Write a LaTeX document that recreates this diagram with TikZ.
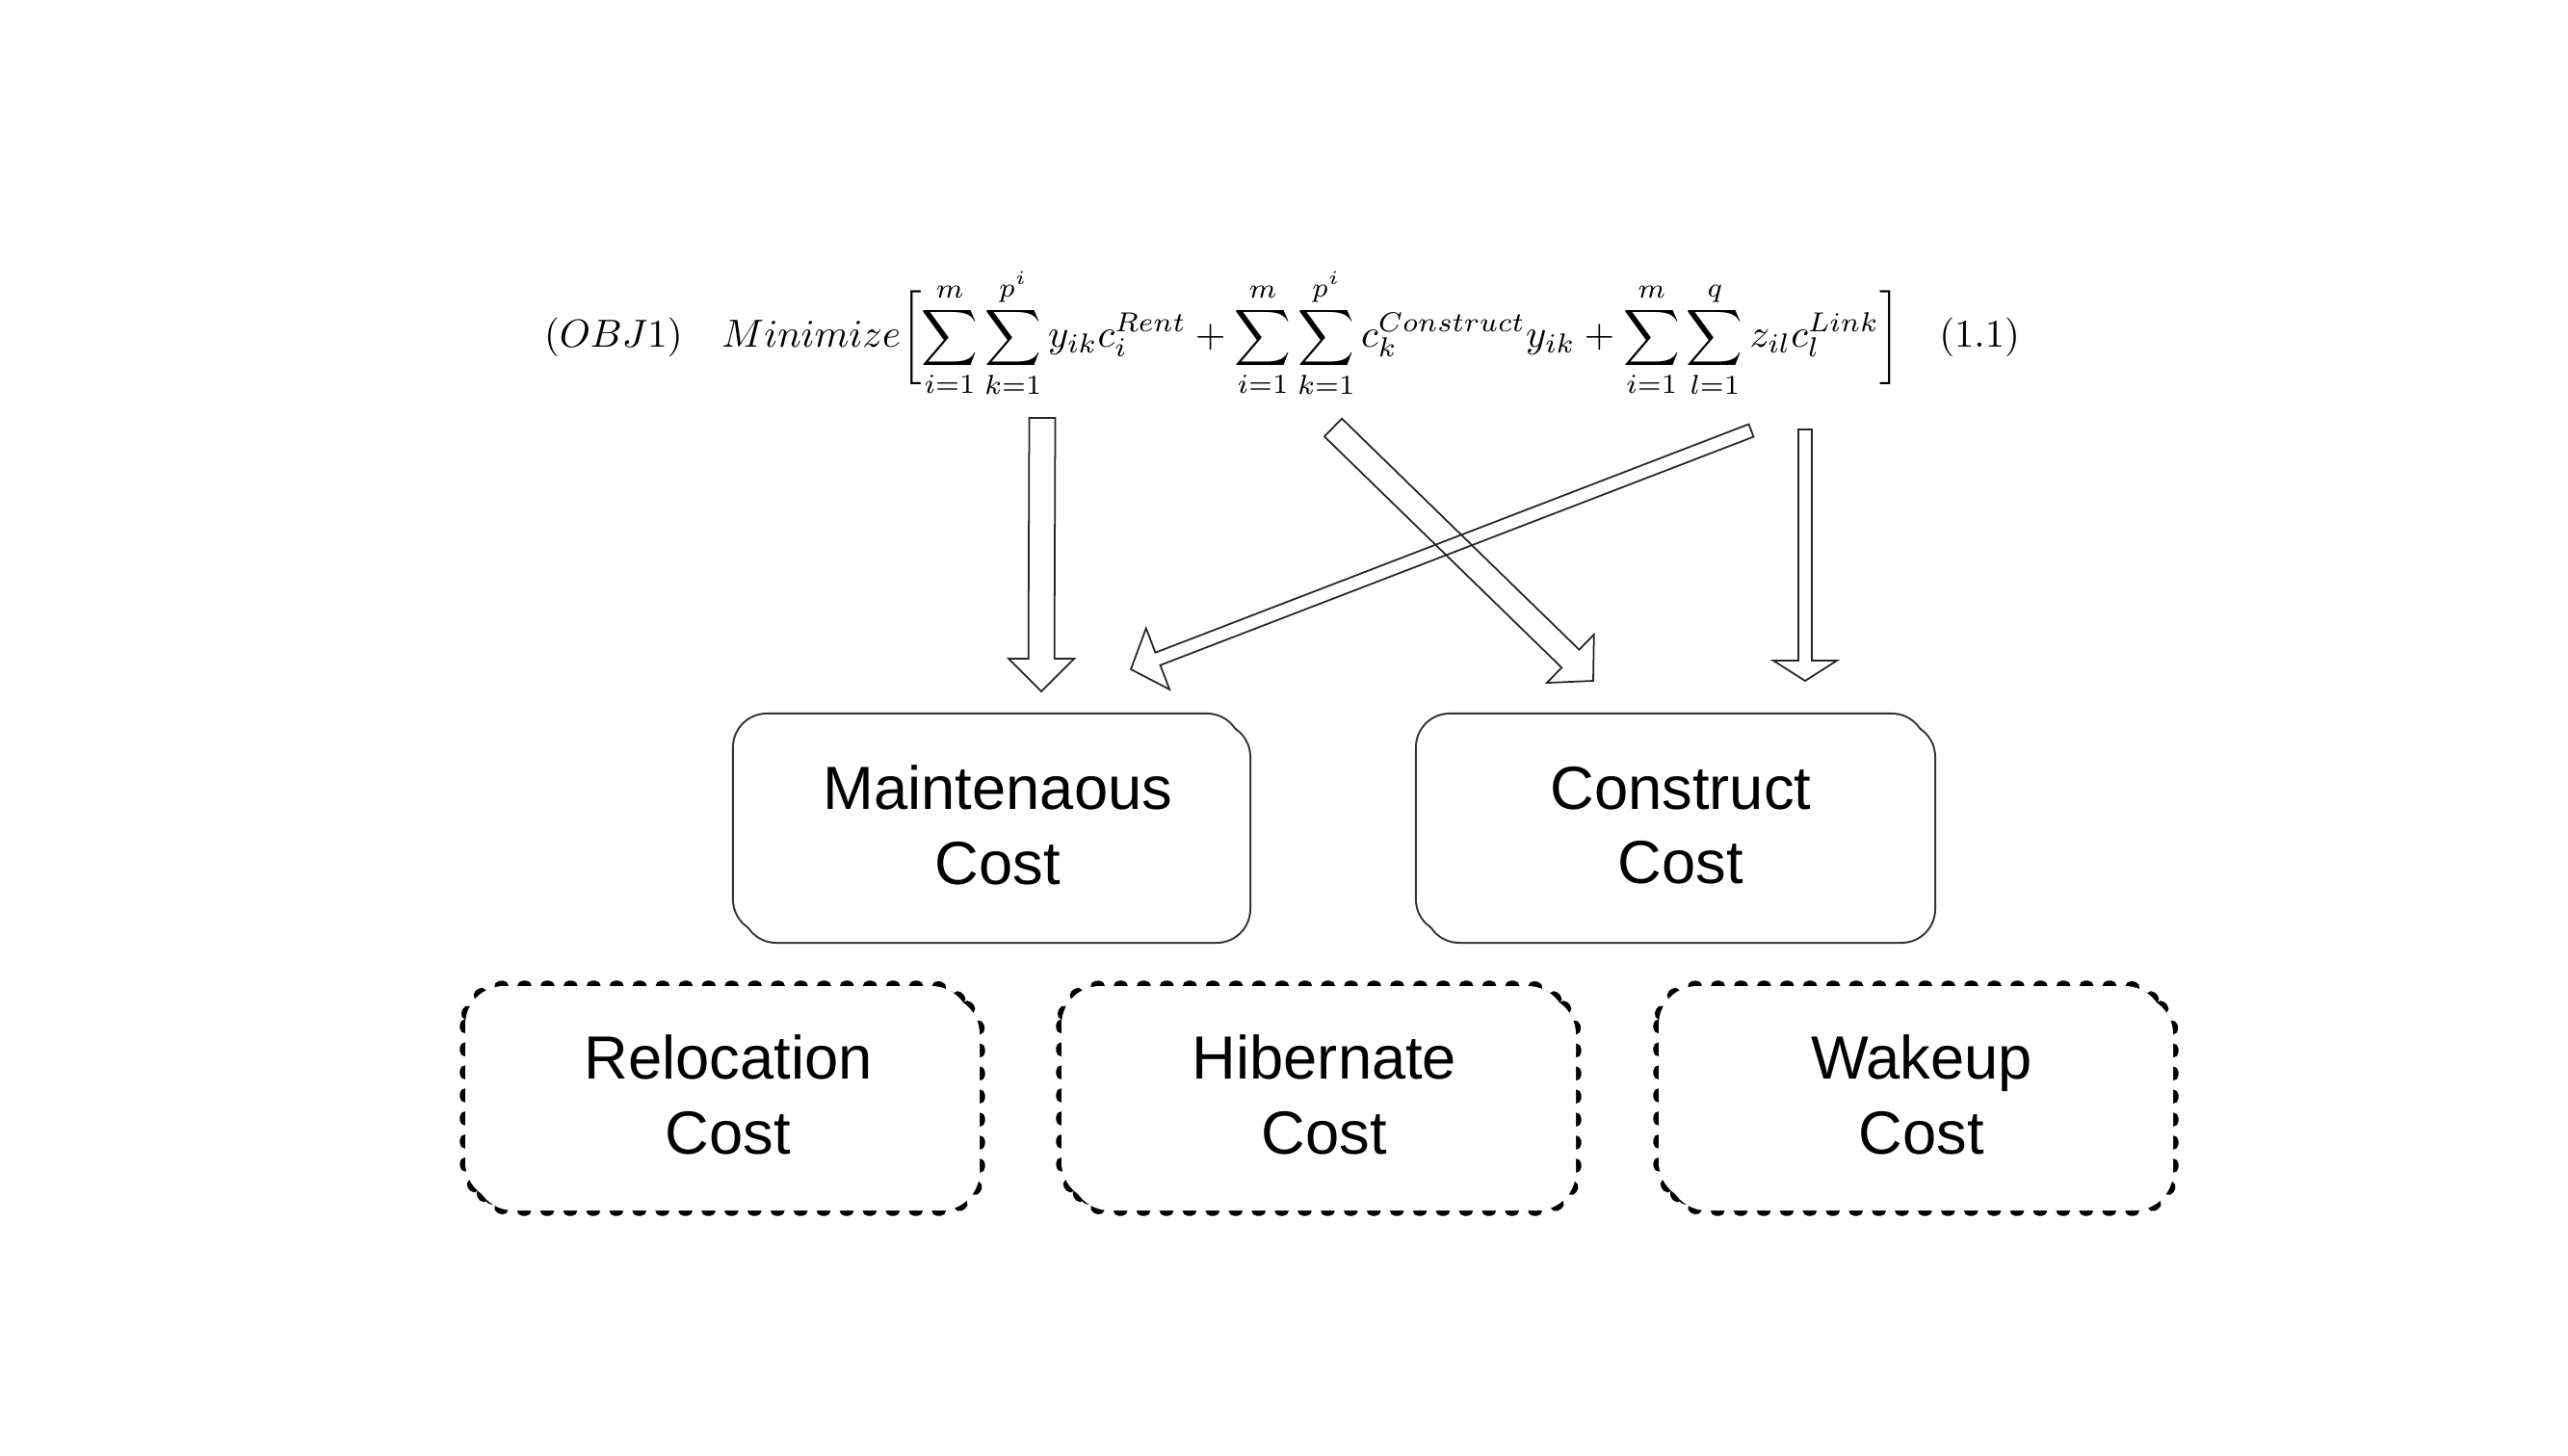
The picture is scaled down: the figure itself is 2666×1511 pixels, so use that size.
\documentclass[tikz,border=0pt]{standalone}
\usepackage[no-math]{fontspec}
\setmainfont{Liberation Sans}
\usepackage{graphicx}
\usetikzlibrary{calc}

\tikzset{
  arrowline/.style={draw=black!85, line width=0.5pt, line join=miter},
  solidbox/.style={draw=black!80, line width=1.15pt, rounded corners=0.34cm},
  dashbox/.style={draw=black, line width=3.2pt, rounded corners=0.4cm, line cap=round, dash pattern=on 1.0pt off 5.8pt},
  costtext/.style={align=center, font=\fontsize{18}{22}\selectfont, inner sep=0pt, text=black},
}

% #1 tail, #2 tip, #3 shaft half width, #4 head half width, #5 head length
\newcommand\blockarrow[5]{%
  \path ($(#2)!#5!(#1)$) coordinate (ba-base);
  \draw[arrowline]
    ($(#1)!#3!90:(#2)$) -- ($(ba-base)!#3!-90:(#1)$) -- ($(ba-base)!#4!-90:(#1)$)
    -- (#2) -- ($(ba-base)!#4!90:(#1)$) -- ($(ba-base)!#3!90:(#1)$)
    -- ($(#1)!#3!-90:(#2)$) -- cycle;
}

% #1 style, #2 x1, #3 y1, #4 x2, #5 y2, #6 offset
\newcommand\costshape[6]{%
  \draw[#1] (#2,#3) rectangle (#4-#6,#5-#6);
  \draw[#1] (#2+#6,#3+#6) rectangle (#4,#5);
  \path[#1, draw=none, fill=white] (#2,#3) rectangle (#4-#6,#5-#6);
  \path[#1, draw=none, fill=white] (#2+#6,#3+#6) rectangle (#4,#5);
}

\begin{document}
\begin{tikzpicture}[x=0.01cm, y=-0.01cm]
\useasboundingbox[fill=white] (0,0) rectangle (2666,1511);

% formula
\node[inner sep=0pt] (obj) at (1331,346) {\resizebox{15.31cm}{!}{$\displaystyle
 (OBJ1)\quad Minimize\biggl[\sum_{i=1}^{m}\sum_{k=1}^{p^i} y_{ik}c_i^{Rent}
 +\sum_{i=1}^{m}\sum_{k=1}^{p^i} c_k^{Construct}y_{ik}
 +\sum_{i=1}^{m}\sum_{l=1}^{q} z_{il}c_l^{Link}\biggr]\quad(1.1)$}};

% arrow end points
\coordinate (a1s) at (1082,434);
\coordinate (a1e) at (1081,718);
\coordinate (a2s) at (1384,444);
\coordinate (a2e) at (1654,707);
\coordinate (a3s) at (1818,447);
\coordinate (a3e) at (1174,695);
\coordinate (a4s) at (1874,446);
\coordinate (a4e) at (1874,707);

\blockarrow{a1s}{a1e}{0.135cm}{0.34cm}{0.34cm}
\blockarrow{a2s}{a2e}{0.13cm}{0.35cm}{0.33cm}
\blockarrow{a3s}{a3e}{0.07cm}{0.34cm}{0.30cm}
\blockarrow{a4s}{a4e}{0.07cm}{0.33cm}{0.21cm}

% solid boxes
\costshape{solidbox}{762}{742}{1297}{978}{10}
\node[costtext] (maint) at (1036,857) {Maintenaous\\Cost};
\costshape{solidbox}{1471}{742}{2008}{978}{10}
\node[costtext] (constr) at (1745,857) {Construct\\Cost};

% dashed boxes
\costshape{dashbox}{483}{1024}{1017}{1257}{10}
\node[costtext] (reloc) at (756,1137) {Relocation\\Cost};
\costshape{dashbox}{1102}{1024}{1636}{1257}{10}
\node[costtext] (hib) at (1375,1137) {Hibernate\\Cost};
\costshape{dashbox}{1722}{1024}{2256}{1257}{10}
\node[costtext] (wake) at (1995,1137) {Wakeup\\Cost};
\end{tikzpicture}
\end{document}
